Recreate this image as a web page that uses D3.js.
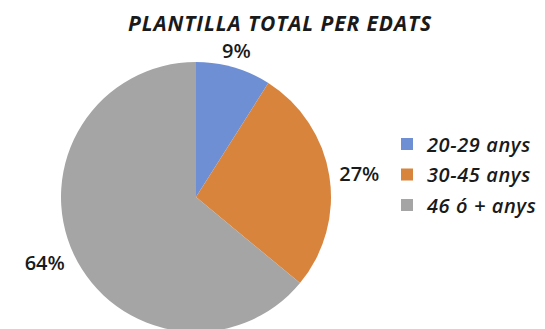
<!DOCTYPE html>
<html>
<head>
<meta charset="utf-8">
<script src="https://cdn.jsdelivr.net/npm/d3@7"></script>
<style>
  html, body { margin: 0; padding: 0; background: #ffffff; }
  svg { display: block; }
</style>
</head>
<body>
<svg id="chart" width="545" height="329"></svg>
<script>
// Age groups of the total staff
const categories = ["20-29 anys", "30-45 anys", "46 ó + anys"];
const values = [9, 27, 64];
const colors = ["#6E8FD3", "#D8843D", "#A5A5A5"];
const title = "PLANTILLA TOTAL PER EDATS";

const width = 545, height = 329;
const cx = 196, cy = 197, radius = 135;

const svg = d3.select("#chart");

svg.append("text")
  .attr("x", 280)
  .attr("y", 31)
  .attr("text-anchor", "middle")
  .style("font-family", "'Open Sans', sans-serif")
  .style("font-weight", 700)
  .style("font-style", "italic")
  .style("font-size", "21px")
  .style("letter-spacing", "0.9px")
  .style("fill", "#1a1a1a")
  .text(title);

const color = d3.scaleOrdinal().domain(categories).range(colors);
const total = d3.sum(values);
const data = categories.map((c, i) => ({ category: c, value: values[i] }));

const pie = d3.pie().sort(null).value(d => d.value);
const arcs = pie(data);
const arc = d3.arc().innerRadius(0).outerRadius(radius);
const labelArc = d3.arc().innerRadius(radius + 10).outerRadius(radius + 10);

const g = svg.append("g").attr("transform", `translate(${cx},${cy})`);

g.selectAll("path.slice")
  .data(arcs)
  .join("path")
  .attr("class", "slice")
  .attr("d", arc)
  .attr("fill", d => color(d.data.category));

// Percentage labels sit just outside the rim, anchored away from the pie
const midAngle = d => (d.startAngle + d.endAngle) / 2;
g.selectAll("text.pct")
  .data(arcs)
  .join("text")
  .attr("class", "pct")
  .attr("transform", d => {
    const [x, y] = labelArc.centroid(d);
    return `translate(${x},${y - Math.cos(midAngle(d)) * 8})`;
  })
  .attr("text-anchor", d => {
    const s = Math.sin(midAngle(d));
    return s > 0.3 ? "start" : s < -0.3 ? "end" : "middle";
  })
  .attr("dominant-baseline", "central")
  .style("font-family", "'Open Sans', sans-serif")
  .style("font-weight", 600)
  .style("font-size", "20px")
  .style("fill", "#1a1a1a")
  .text(d => Math.round(d.data.value / total * 100) + "%");

// Legend
const legend = svg.append("g").attr("transform", "translate(401,144)");
const rowH = 30.5;
const items = legend.selectAll("g.item")
  .data(categories)
  .join("g")
  .attr("class", "item")
  .attr("transform", (d, i) => `translate(0,${i * rowH})`);

items.append("rect")
  .attr("x", 0).attr("y", -6)
  .attr("width", 12).attr("height", 12)
  .attr("fill", d => color(d));

items.append("text")
  .attr("x", 26)
  .attr("y", 0)
  .attr("dominant-baseline", "central")
  .style("font-family", "'Open Sans', sans-serif")
  .style("font-weight", 600)
  .style("font-style", "italic")
  .style("font-size", "20px")
  .style("letter-spacing", "0.6px")
  .style("fill", "#1a1a1a")
  .text(d => d);
</script>
</body>
</html>
